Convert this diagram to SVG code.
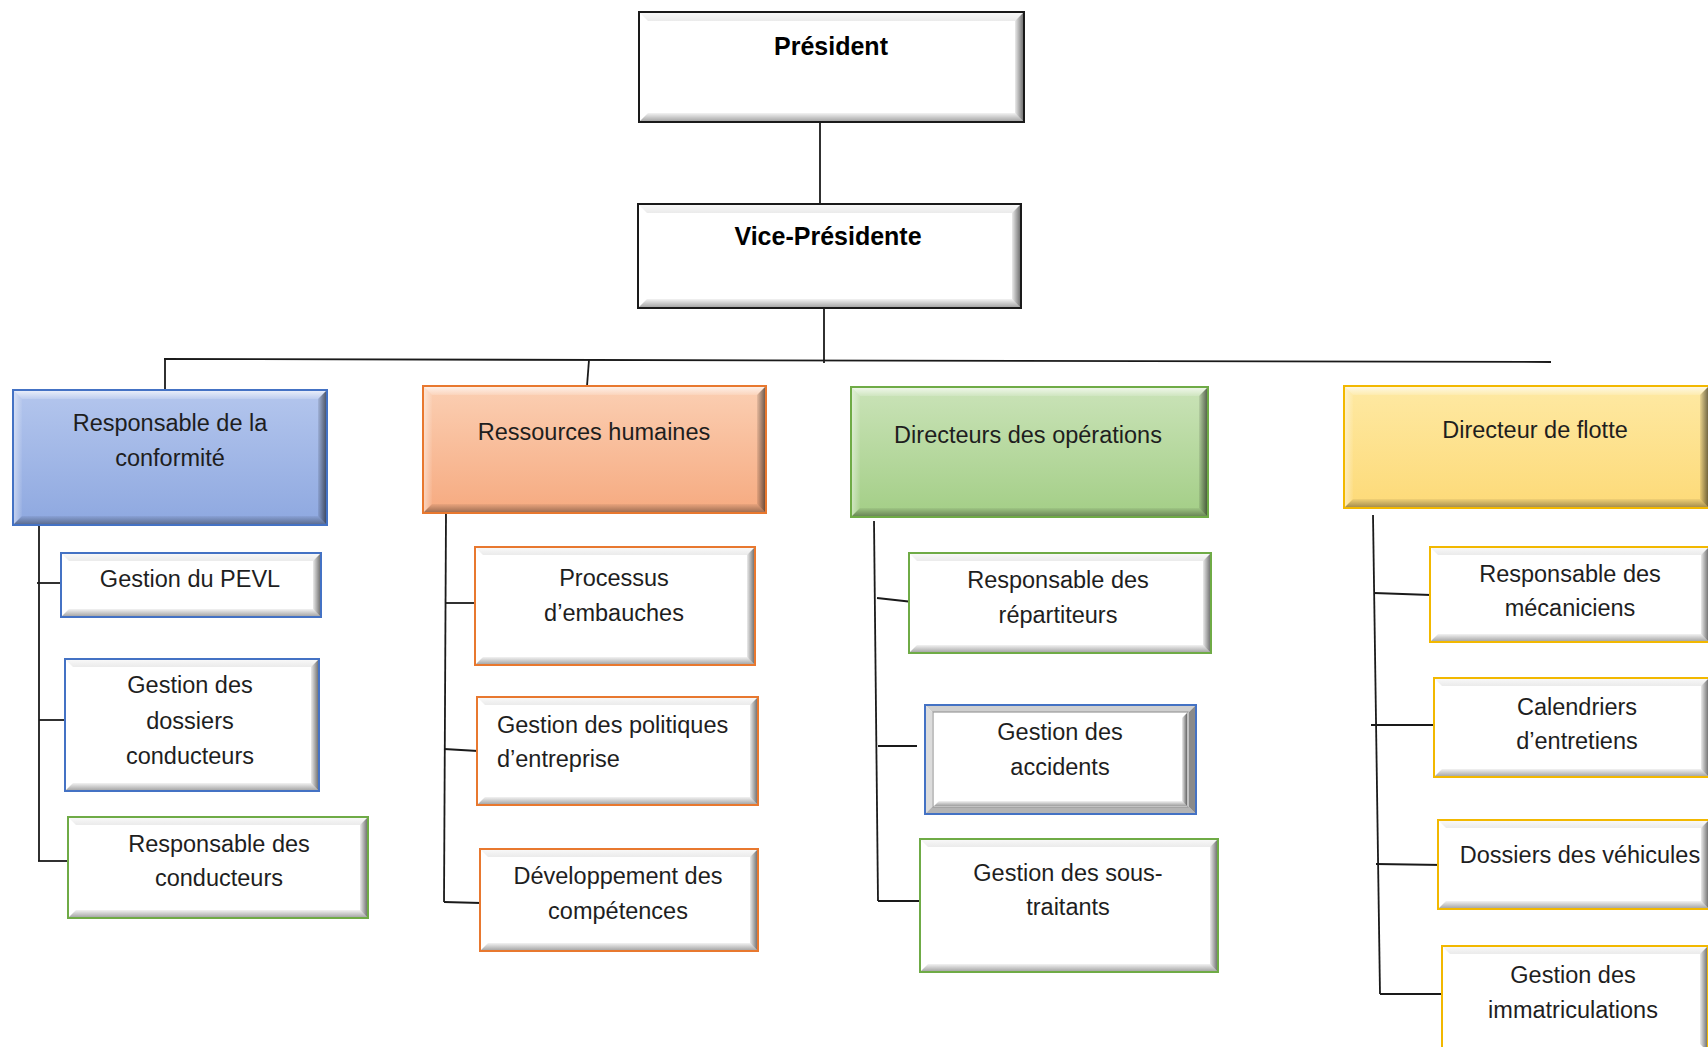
<svg xmlns="http://www.w3.org/2000/svg" width="1708" height="1047" viewBox="0 0 1708 1047">
<defs>
<linearGradient id="gT" x1="0" y1="0" x2="0" y2="1"><stop offset="0" stop-color="#fff" stop-opacity="0.75"/><stop offset="1" stop-color="#fff" stop-opacity="0.15"/></linearGradient>
<linearGradient id="gL" x1="0" y1="0" x2="1" y2="0"><stop offset="0" stop-color="#fff" stop-opacity="0.5"/><stop offset="1" stop-color="#fff" stop-opacity="0.05"/></linearGradient>
<linearGradient id="gB" x1="0" y1="0" x2="0" y2="1"><stop offset="0" stop-color="#000" stop-opacity="0.05"/><stop offset="1" stop-color="#000" stop-opacity="0.38"/></linearGradient>
<linearGradient id="gR" x1="0" y1="0" x2="1" y2="0"><stop offset="0" stop-color="#000" stop-opacity="0.08"/><stop offset="1" stop-color="#000" stop-opacity="0.6"/></linearGradient>
<linearGradient id="gWT" x1="0" y1="0" x2="0" y2="1"><stop offset="0" stop-color="#000" stop-opacity="0.02"/><stop offset="1" stop-color="#000" stop-opacity="0.08"/></linearGradient>
<linearGradient id="gBlue" x1="0" y1="0" x2="0" y2="1"><stop offset="0" stop-color="#B4C6ED"/><stop offset="1" stop-color="#8EA8E0"/></linearGradient>
<linearGradient id="gOrange" x1="0" y1="0" x2="0" y2="1"><stop offset="0" stop-color="#FBCFB3"/><stop offset="1" stop-color="#F6AA80"/></linearGradient>
<linearGradient id="gGreen" x1="0" y1="0" x2="0" y2="1"><stop offset="0" stop-color="#CAE3B8"/><stop offset="1" stop-color="#A3CE86"/></linearGradient>
<linearGradient id="gYellow" x1="0" y1="0" x2="0" y2="1"><stop offset="0" stop-color="#FEE9A3"/><stop offset="1" stop-color="#FDDA78"/></linearGradient>
</defs>
<style>
text{font-family:"Liberation Sans",Arial,sans-serif;font-size:23.5px;fill:#1e1e1e;text-anchor:middle}
text.b{font-weight:bold;font-size:25px;fill:#000}
text.l{text-anchor:start}
.bt{fill:url(#gT)}
.bl{fill:url(#gL)}
.bb{fill:url(#gB)}
.br{fill:url(#gR)}
.wt{fill:url(#gWT)}
.white{fill:#fff}
.fr{fill:none;stroke-width:2}
.k{stroke:#1a1a1a}
.blue{stroke:#4472C4}
.orange{stroke:#E8782F}
.green{stroke:#6FAB46}
.gold{stroke:#F2B800}
.conn line{stroke:#1a1a1a;stroke-width:1.8;fill:none}
</style>
<rect width="1708" height="1047" fill="#fff"/>

<g id="connectors" class="conn">
<line x1="820" y1="122" x2="820" y2="204"/>
<line x1="824" y1="302" x2="824" y2="363"/>
<line x1="164" y1="359" x2="1551" y2="362"/>
<line x1="165" y1="359" x2="165" y2="390"/>
<line x1="589" y1="360" x2="587" y2="386"/>
<line x1="39" y1="525" x2="39" y2="861"/>
<line x1="37" y1="583" x2="61" y2="583"/>
<line x1="39" y1="720" x2="66" y2="720"/>
<line x1="38" y1="861" x2="69" y2="861"/>
<line x1="446" y1="513" x2="444" y2="902"/>
<line x1="446" y1="603" x2="475" y2="603"/>
<line x1="444" y1="749" x2="478" y2="751"/>
<line x1="444" y1="902" x2="481" y2="903"/>
<line x1="874" y1="521" x2="878" y2="901"/>
<line x1="877" y1="598" x2="913" y2="602"/>
<line x1="878" y1="746" x2="917" y2="746"/>
<line x1="878" y1="901" x2="921" y2="901"/>
<line x1="1373" y1="515" x2="1380" y2="994"/>
<line x1="1374" y1="593" x2="1431" y2="595"/>
<line x1="1371" y1="725" x2="1440" y2="725"/>
<line x1="1376" y1="864" x2="1443" y2="865"/>
<line x1="1380" y1="994" x2="1447" y2="994"/>
</g>

<g id="president">
<rect class="white" x="639" y="12" width="385" height="110"/>
<polygon class="wt" points="639,12 1024,12 1015,21 648,21"/>
<polygon class="bb" points="639,122 648,113 1015,113 1024,122"/>
<polygon class="br" points="1024,12 1024,122 1015,113 1015,21"/>
<rect class="fr k" x="639" y="12" width="385" height="110"/>
<text class="b" x="831" y="55">Président</text>
</g>

<g id="vice-presidente">
<rect class="white" x="638" y="204" width="383" height="104"/>
<polygon class="wt" points="638,204 1021,204 1012,213 647,213"/>
<polygon class="bb" points="638,308 647,299 1012,299 1021,308"/>
<polygon class="br" points="1021,204 1021,308 1012,299 1012,213"/>
<rect class="fr k" x="638" y="204" width="383" height="104"/>
<text class="b" x="828" y="245">Vice-Présidente</text>
</g>

<g id="conformite">
<rect x="13" y="390" width="314" height="135" fill="url(#gBlue)"/>
<polygon class="bt" points="13,390 327,390 318,399 22,399"/>
<polygon class="bl" points="13,390 22,399 22,516 13,525"/>
<polygon class="bb" points="13,525 22,516 318,516 327,525"/>
<polygon class="br" points="327,390 327,525 318,516 318,399"/>
<rect class="fr blue" x="13" y="390" width="314" height="135"/>
<text x="170" y="431">Responsable de la</text>
<text x="170" y="466">conformité</text>
</g>

<g id="ressources-humaines">
<rect x="423" y="386" width="343" height="127" fill="url(#gOrange)"/>
<polygon class="bt" points="423,386 766,386 757,395 432,395"/>
<polygon class="bl" points="423,386 432,395 432,504 423,513"/>
<polygon class="bb" points="423,513 432,504 757,504 766,513"/>
<polygon class="br" points="766,386 766,513 757,504 757,395"/>
<rect class="fr orange" x="423" y="386" width="343" height="127"/>
<text x="594" y="440">Ressources humaines</text>
</g>

<g id="operations">
<rect x="851" y="387" width="357" height="130" fill="url(#gGreen)"/>
<polygon class="bt" points="851,387 1208,387 1199,396 860,396"/>
<polygon class="bl" points="851,387 860,396 860,508 851,517"/>
<polygon class="bb" points="851,517 860,508 1199,508 1208,517"/>
<polygon class="br" points="1208,387 1208,517 1199,508 1199,396"/>
<rect class="fr green" x="851" y="387" width="357" height="130"/>
<text x="1028" y="443">Directeurs des opérations</text>
</g>

<g id="flotte">
<rect x="1344" y="386" width="365" height="122" fill="url(#gYellow)"/>
<polygon class="bt" points="1344,386 1709,386 1700,395 1353,395"/>
<polygon class="bl" points="1344,386 1353,395 1353,499 1344,508"/>
<polygon class="bb" points="1344,508 1353,499 1700,499 1709,508"/>
<polygon class="br" points="1709,386 1709,508 1700,499 1700,395"/>
<rect class="fr gold" x="1344" y="386" width="365" height="122"/>
<text x="1535" y="438">Directeur de flotte</text>
</g>

<g id="pevl">
<rect class="white" x="61" y="553" width="260" height="64"/>
<polygon class="wt" points="61,553 321,553 313,561 69,561"/>
<polygon class="bb" points="61,617 69,609 313,609 321,617"/>
<polygon class="br" points="321,553 321,617 313,609 313,561"/>
<rect class="fr blue" x="61" y="553" width="260" height="64"/>
<text x="190" y="587">Gestion du PEVL</text>
</g>

<g id="dossiers-conducteurs">
<rect class="white" x="65" y="659" width="254" height="132"/>
<polygon class="wt" points="65,659 319,659 311,667 73,667"/>
<polygon class="bb" points="65,791 73,783 311,783 319,791"/>
<polygon class="br" points="319,659 319,791 311,783 311,667"/>
<rect class="fr blue" x="65" y="659" width="254" height="132"/>
<text x="190" y="693">Gestion des</text>
<text x="190" y="729">dossiers</text>
<text x="190" y="764">conducteurs</text>
</g>

<g id="responsable-conducteurs">
<rect class="white" x="68" y="817" width="300" height="101"/>
<polygon class="wt" points="68,817 368,817 360,825 76,825"/>
<polygon class="bb" points="68,918 76,910 360,910 368,918"/>
<polygon class="br" points="368,817 368,918 360,910 360,825"/>
<rect class="fr green" x="68" y="817" width="300" height="101"/>
<text x="219" y="852">Responsable des</text>
<text x="219" y="886">conducteurs</text>
</g>

<g id="embauches">
<rect class="white" x="475" y="547" width="280" height="118"/>
<polygon class="wt" points="475,547 755,547 747,555 483,555"/>
<polygon class="bb" points="475,665 483,657 747,657 755,665"/>
<polygon class="br" points="755,547 755,665 747,657 747,555"/>
<rect class="fr orange" x="475" y="547" width="280" height="118"/>
<text x="614" y="586">Processus</text>
<text x="614" y="621">d’embauches</text>
</g>

<g id="politiques">
<rect class="white" x="477" y="697" width="281" height="108"/>
<polygon class="wt" points="477,697 758,697 750,705 485,705"/>
<polygon class="bb" points="477,805 485,797 750,797 758,805"/>
<polygon class="br" points="758,697 758,805 750,797 750,705"/>
<rect class="fr orange" x="477" y="697" width="281" height="108"/>
<text class="l" x="497" y="733">Gestion des politiques</text>
<text class="l" x="497" y="767">d’entreprise</text>
</g>

<g id="competences">
<rect class="white" x="480" y="849" width="278" height="102"/>
<polygon class="wt" points="480,849 758,849 750,857 488,857"/>
<polygon class="bb" points="480,951 488,943 750,943 758,951"/>
<polygon class="br" points="758,849 758,951 750,943 750,857"/>
<rect class="fr orange" x="480" y="849" width="278" height="102"/>
<text x="618" y="884">Développement des</text>
<text x="618" y="919">compétences</text>
</g>

<g id="repartiteurs">
<rect class="white" x="909" y="553" width="302" height="100"/>
<polygon class="wt" points="909,553 1211,553 1203,561 917,561"/>
<polygon class="bb" points="909,653 917,645 1203,645 1211,653"/>
<polygon class="br" points="1211,553 1211,653 1203,645 1203,561"/>
<rect class="fr green" x="909" y="553" width="302" height="100"/>
<text x="1058" y="588">Responsable des</text>
<text x="1058" y="623">répartiteurs</text>
</g>

<g id="accidents">
<rect class="white" x="925" y="705" width="271" height="109"/>
<polygon fill="#cfcfcf" points="925,705 1196,705 1189,712 932,712"/>
<polygon fill="#dcdcdc" points="925,705 932,712 932,807 925,814"/>
<polygon fill="#b4b4b4" points="925,814 932,807 1189,807 1196,814"/>
<polygon fill="#8a8a8a" points="1196,705 1196,814 1189,807 1189,712"/>
<rect x="933" y="712" width="255" height="95" fill="none" stroke="#9a9a9a" stroke-width="1.2"/>
<polygon class="bb" points="934,806 939,801 1182,801 1187,806"/>
<polygon class="br" points="1187,713 1187,806 1182,801 1182,718"/>
<rect class="fr blue" x="925" y="705" width="271" height="109"/>
<text x="1060" y="740">Gestion des</text>
<text x="1060" y="775">accidents</text>
</g>

<g id="sous-traitants">
<rect class="white" x="920" y="839" width="298" height="133"/>
<polygon class="wt" points="920,839 1218,839 1210,847 928,847"/>
<polygon class="bb" points="920,972 928,964 1210,964 1218,972"/>
<polygon class="br" points="1218,839 1218,972 1210,964 1210,847"/>
<rect class="fr green" x="920" y="839" width="298" height="133"/>
<text x="1068" y="881">Gestion des sous-</text>
<text x="1068" y="915">traitants</text>
</g>

<g id="mecaniciens">
<rect class="white" x="1430" y="547" width="279" height="95"/>
<polygon class="wt" points="1430,547 1709,547 1701,555 1438,555"/>
<polygon class="bb" points="1430,642 1438,634 1701,634 1709,642"/>
<polygon class="br" points="1709,547 1709,642 1701,634 1701,555"/>
<rect class="fr gold" x="1430" y="547" width="279" height="95"/>
<text x="1570" y="582">Responsable des</text>
<text x="1570" y="616">mécaniciens</text>
</g>

<g id="calendriers">
<rect class="white" x="1434" y="678" width="275" height="99"/>
<polygon class="wt" points="1434,678 1709,678 1701,686 1442,686"/>
<polygon class="bb" points="1434,777 1442,769 1701,769 1709,777"/>
<polygon class="br" points="1709,678 1709,777 1701,769 1701,686"/>
<rect class="fr gold" x="1434" y="678" width="275" height="99"/>
<text x="1577" y="715">Calendriers</text>
<text x="1577" y="749">d’entretiens</text>
</g>

<g id="vehicules">
<rect class="white" x="1438" y="820" width="271" height="89"/>
<polygon class="wt" points="1438,820 1709,820 1701,828 1446,828"/>
<polygon class="bb" points="1438,909 1446,901 1701,901 1709,909"/>
<polygon class="br" points="1709,820 1709,909 1701,901 1701,828"/>
<rect class="fr gold" x="1438" y="820" width="271" height="89"/>
<text x="1580" y="863">Dossiers des véhicules</text>
</g>

<g id="immatriculations">
<rect class="white" x="1442" y="946" width="266" height="106"/>
<polygon class="wt" points="1442,946 1708,946 1700,954 1450,954"/>
<polygon class="br" points="1708,946 1708,1052 1700,1044 1700,954"/>
<rect class="fr gold" x="1442" y="946" width="266" height="106"/>
<text x="1573" y="983">Gestion des</text>
<text x="1573" y="1018">immatriculations</text>
</g>
</svg>
